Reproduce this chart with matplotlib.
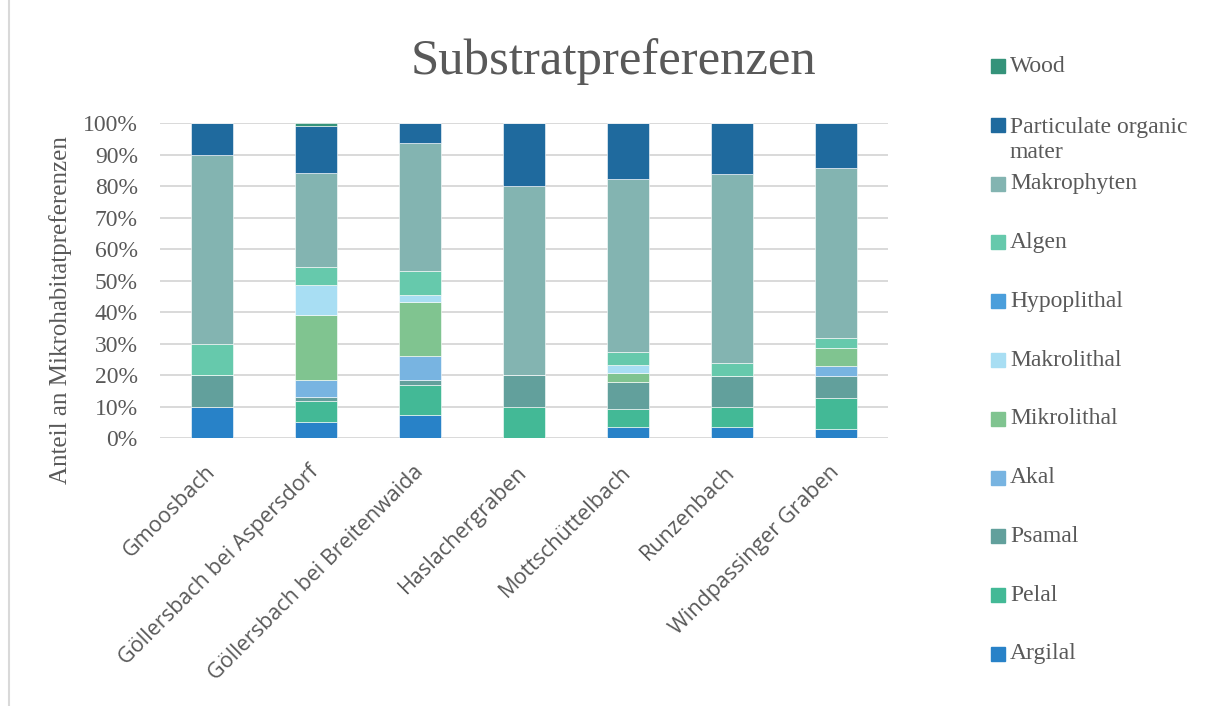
import numpy as np
import matplotlib
matplotlib.use("Agg")
import matplotlib.pyplot as plt
from matplotlib.patches import Rectangle
from matplotlib.lines import Line2D
from matplotlib.ticker import PercentFormatter

# ── data (percent of micro-habitat preferences per stream) ──────────────────
streams = ["Gmoosbach", "Göllersbach bei Aspersdorf", "Göllersbach bei Breitenwaida",
           "Haslachergraben", "Mottschüttelbach", "Runzenbach", "Windpassinger Graben"]

argilal     = [10, 5.3, 7.5, 0, 3.7, 3.7, 2.9]
pelal       = [0, 6.6, 9.3, 10, 5.5, 6.2, 9.8]
psamal      = [10, 1.2, 1.8, 10, 8.8, 10, 7.2]
akal        = [0, 5.5, 7.6, 0, 0, 0, 3.0]
mikrolithal = [0, 20.7, 17.2, 0, 2.8, 0, 5.7]
makrolithal = [0, 9.3, 2.2, 0, 2.5, 0, 0]
hypoplithal = [0, 0, 0, 0, 0, 0, 0]
algen       = [10, 5.7, 7.6, 0, 4.0, 3.9, 3.1]
makrophyten = [60, 29.9, 40.6, 60, 54.9, 60.1, 54.1]
pom         = [10, 15.0, 6.2, 20, 17.8, 16.1, 14.2]
wood        = [0, 0.8, 0, 0, 0, 0, 0]

series_names = ["Argilal", "Pelal", "Psamal", "Akal", "Mikrolithal", "Makrolithal",
                "Hypoplithal", "Algen", "Makrophyten", "Particulate organic\nmater", "Wood"]
series_vals = [argilal, pelal, psamal, akal, mikrolithal, makrolithal,
               hypoplithal, algen, makrophyten, pom, wood]
colors = ["#2882C8", "#43B996", "#62A09C", "#78B4E1", "#80C490", "#A8DEF3",
          "#4A9EDB", "#66C9AC", "#83B4B1", "#1F6A9E", "#35937A"]

yticks = list(range(0, 101, 10))

SERIF = ["Liberation Serif", "DejaVu Serif"]
SANS = ["Open Sans", "DejaVu Sans"]
GREY = "#595959"

W, H = 1205, 706
fig = plt.figure(figsize=(W / 100, H / 100), dpi=100)

# axes placed in pixel coords of the reference
ax = fig.add_axes([160 / W, 1 - 438.3 / H, 728 / W, 315 / H])

x = np.arange(len(streams))
bottom = np.zeros(len(streams))
for vals, col in zip(series_vals, colors):
    vals = np.array(vals, dtype=float)
    ax.bar(x, vals, 0.4, bottom=bottom, color=col, edgecolor="white", linewidth=0.4, zorder=3)
    bottom += vals

ax.set_xlim(-0.5, len(streams) - 0.5)
ax.set_ylim(0, 100)
ax.set_yticks(yticks)
ax.yaxis.set_major_formatter(PercentFormatter(decimals=0))
ax.yaxis.grid(True, color="#D9D9D9", linewidth=1.4, zorder=0)
ax.set_axisbelow(True)
for sp in ax.spines.values():
    sp.set_visible(False)

ax.tick_params(axis="y", length=0, pad=16, labelsize=17, labelcolor=GREY)
for lab in ax.get_yticklabels():
    lab.set_family(SERIF)

ax.set_xticks(x)
ax.set_xticklabels(streams, rotation=45, ha="right", va="center", rotation_mode="anchor",
                   fontsize=15.5, color=GREY, family=SANS)
ax.tick_params(axis="x", length=0, pad=22)

# y label, title
fig.text(61 / W, 1 - 310 / H, "Anteil an Mikrohabitatpreferenzen", rotation=90,
         ha="center", va="center", fontsize=18, color=GREY, family=SERIF)
fig.text(613 / W, 1 - 62 / H, "Substratpreferenzen", ha="center", va="center",
         fontsize=36.5, color=GREY, family=SERIF)

# legend (reversed order, top = Wood)
for i, (name, col) in enumerate(zip(series_names[::-1], colors[::-1])):
    yc = 66 + 58.8 * i
    fig.add_artist(Rectangle((991 / W, 1 - (yc + 7) / H), 14 / W, 14 / H,
                             transform=fig.transFigure, color=col))
    if "\n" in name:
        fig.text(1010 / W, 1 - (yc - 8) / H, name, ha="left", va="top",
                 fontsize=17, color=GREY, family=SERIF, linespacing=1.25)
    else:
        fig.text(1010 / W, 1 - yc / H, name, ha="left", va="center",
                 fontsize=17, color=GREY, family=SERIF)

# chart-area frame at the left edge
fig.add_artist(Line2D([9 / W, 9 / W], [0, 1], transform=fig.transFigure,
                      color="#D9D9D9", linewidth=1.5))

fig.savefig("out.png", dpi=100, facecolor="white")
